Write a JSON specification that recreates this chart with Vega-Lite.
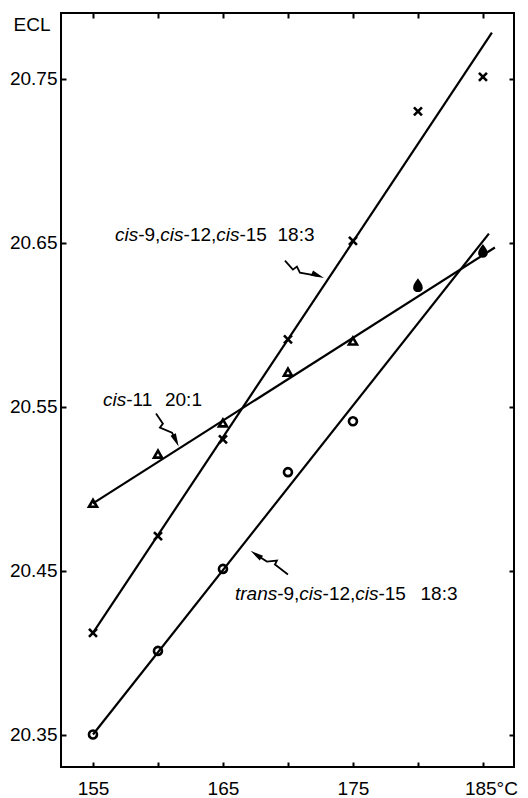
{
  "$schema": "https://vega.github.io/schema/vega-lite/v6.json",
  "autosize": {"type": "none"},
  "width": 453,
  "height": 754,
  "padding": {"left": 61, "top": 13, "right": 14, "bottom": 31},
  "background": "white",
  "config": {
    "font": "Liberation Sans",
    "view": {"stroke": "black", "strokeWidth": 2},
    "axis": {"domain": false, "grid": false, "tickColor": "black", "tickWidth": 2, "tickSize": -5, "labelColor": "black", "labelFontSize": 19, "labelFont": "Liberation Sans"}
  },
  "datasets": {
    "lines": [
      {"series": "all-cis 18:3", "x": 155, "y": 20.412},
      {"series": "all-cis 18:3", "x": 185.69, "y": 20.778},
      {"series": "cis-11 20:1", "x": 155, "y": 20.491},
      {"series": "cis-11 20:1", "x": 185.92, "y": 20.647},
      {"series": "trans-9 18:3", "x": 155, "y": 20.35},
      {"series": "trans-9 18:3", "x": 185.46, "y": 20.6555}
    ],
    "points": [
      {"series": "all-cis 18:3", "x": 155, "y": 20.412},
      {"series": "all-cis 18:3", "x": 160, "y": 20.471},
      {"series": "all-cis 18:3", "x": 165, "y": 20.530},
      {"series": "all-cis 18:3", "x": 170, "y": 20.591},
      {"series": "all-cis 18:3", "x": 175, "y": 20.651},
      {"series": "all-cis 18:3", "x": 180, "y": 20.730},
      {"series": "all-cis 18:3", "x": 185, "y": 20.751},
      {"series": "cis-11 20:1", "x": 155, "y": 20.491},
      {"series": "cis-11 20:1", "x": 160, "y": 20.521},
      {"series": "cis-11 20:1", "x": 165, "y": 20.540},
      {"series": "cis-11 20:1", "x": 170, "y": 20.571},
      {"series": "cis-11 20:1", "x": 175, "y": 20.590},
      {"series": "trans-9 18:3", "x": 155, "y": 20.350},
      {"series": "trans-9 18:3", "x": 160, "y": 20.401},
      {"series": "trans-9 18:3", "x": 165, "y": 20.451},
      {"series": "trans-9 18:3", "x": 170, "y": 20.510},
      {"series": "trans-9 18:3", "x": 175, "y": 20.541}
    ],
    "dark": [
      {"x": 180, "y": 20.624},
      {"x": 185, "y": 20.645}
    ],
    "arrows": [
      {"arrow": "a1", "i": 1, "x": 169.77, "y": 20.639},
      {"arrow": "a1", "i": 2, "x": 170.38, "y": 20.6335},
      {"arrow": "a1", "i": 3, "x": 170.69, "y": 20.6354},
      {"arrow": "a1", "i": 4, "x": 170.92, "y": 20.6317},
      {"arrow": "a1", "i": 5, "x": 172.4, "y": 20.6295},
      {"arrow": "a2", "i": 1, "x": 159.85, "y": 20.5457},
      {"arrow": "a2", "i": 2, "x": 160.38, "y": 20.5396},
      {"arrow": "a2", "i": 3, "x": 160.15, "y": 20.5372},
      {"arrow": "a2", "i": 4, "x": 161.08, "y": 20.5341},
      {"arrow": "a2", "i": 5, "x": 161.4, "y": 20.529},
      {"arrow": "a3", "i": 1, "x": 167.5, "y": 20.46},
      {"arrow": "a3", "i": 2, "x": 168.38, "y": 20.4555},
      {"arrow": "a3", "i": 3, "x": 169.15, "y": 20.4561},
      {"arrow": "a3", "i": 4, "x": 169.0, "y": 20.4537},
      {"arrow": "a3", "i": 5, "x": 170.0, "y": 20.4476}
    ],
    "heads": [
      {"arrow": "a1", "x": 172.31, "y": 20.6299},
      {"arrow": "a2", "x": 161.38, "y": 20.5293},
      {"arrow": "a3", "x": 167.54, "y": 20.4598}
    ],
    "italic": [
      {"x": 156.692, "y": 20.6512, "t": "cis"},
      {"x": 160.177, "y": 20.6512, "t": "cis"},
      {"x": 164.485, "y": 20.6512, "t": "cis"},
      {"x": 155.769, "y": 20.5506, "t": "cis"},
      {"x": 165.923, "y": 20.4323, "t": "trans"},
      {"x": 170.877, "y": 20.4323, "t": "cis"},
      {"x": 175.177, "y": 20.4323, "t": "cis"}
    ],
    "roman": [
      {"x": 158.477, "y": 20.6512, "t": "-9,"},
      {"x": 161.969, "y": 20.6512, "t": "-12,"},
      {"x": 166.269, "y": 20.6512, "t": "-15"},
      {"x": 169.2, "y": 20.6512, "t": "18:3"},
      {"x": 157.554, "y": 20.5506, "t": "-11"},
      {"x": 160.538, "y": 20.5506, "t": "20:1"},
      {"x": 169.169, "y": 20.4323, "t": "-9,"},
      {"x": 172.662, "y": 20.4323, "t": "-12,"},
      {"x": 176.962, "y": 20.4323, "t": "-15"},
      {"x": 180.2, "y": 20.4323, "t": "18:3"}
    ]
  },
  "resolve": {"axis": {"x": "independent", "y": "independent"}},
  "layer": [
    {
      "data": {"name": "lines"},
      "mark": {"type": "line", "color": "black", "strokeWidth": 2.2},
      "encoding": {
        "x": {"field": "x", "type": "quantitative", "scale": {"domain": [152.54, 187.39], "nice": false, "zero": false},
          "axis": {"orient": "bottom", "values": [155, 160, 165, 170, 175, 180, 185], "labelExpr": "datum.value == 185 ? '185°C' : (datum.value % 10 == 5 ? datum.label : '')", "labelPadding": 17, "labelOffset": {"condition": {"test": "datum.value == 185", "value": 8}, "value": 0}, "title": null}},
        "y": {"field": "y", "type": "quantitative", "scale": {"domain": [20.3302, 20.79], "nice": false, "zero": false},
          "axis": {"orient": "left", "values": [20.35, 20.45, 20.55, 20.65, 20.75], "format": ".2f", "labelPadding": 9, "title": "ECL", "titleAngle": 0, "titleAlign": "left", "titleBaseline": "alphabetic", "titleX": -48, "titleY": 17, "titleFontSize": 19, "titleFontWeight": "normal", "titleColor": "black", "titleFont": "Liberation Sans"}},
        "detail": {"field": "series"}
      }
    },
    {
      "data": {"name": "lines"},
      "mark": {"type": "point", "opacity": 0},
      "encoding": {
        "x": {"field": "x", "type": "quantitative", "scale": {"domain": [152.54, 187.39], "nice": false, "zero": false},
          "axis": {"orient": "top", "values": [155, 160, 165, 170, 175, 180, 185], "labels": false, "title": null}},
        "y": {"field": "y", "type": "quantitative", "scale": {"domain": [20.3302, 20.79], "nice": false, "zero": false},
          "axis": {"orient": "right", "values": [20.35, 20.45, 20.55, 20.65, 20.75], "labels": false, "title": null}}
      }
    },
    {
      "data": {"name": "points"},
      "mark": {"type": "point", "filled": false, "color": "black", "strokeWidth": 2.6, "size": 64, "opacity": 1},
      "encoding": {
        "x": {"field": "x", "type": "quantitative", "axis": null},
        "y": {"field": "y", "type": "quantitative", "axis": null},
        "shape": {"field": "series", "type": "nominal", "legend": null,
          "scale": {"domain": ["all-cis 18:3", "cis-11 20:1", "trans-9 18:3"], "range": ["M-1,-1L1,1M-1,1L1,-1", "triangle-up", "circle"]}}
      }
    },
    {
      "data": {"name": "dark"},
      "mark": {"type": "point", "filled": true, "color": "black", "opacity": 1, "size": 190, "shape": "M0,-1C0.35,-0.5 0.7,-0.1 0.7,0.35C0.7,0.75 0.35,1 0,1C-0.35,1 -0.7,0.75 -0.7,0.35C-0.7,-0.1 -0.35,-0.5 0,-1Z"},
      "encoding": {
        "x": {"field": "x", "type": "quantitative", "axis": null},
        "y": {"field": "y", "type": "quantitative", "axis": null}
      }
    },
    {
      "data": {"name": "arrows"},
      "mark": {"type": "line", "color": "black", "strokeWidth": 1.8},
      "encoding": {
        "x": {"field": "x", "type": "quantitative", "axis": null},
        "y": {"field": "y", "type": "quantitative", "axis": null},
        "detail": {"field": "arrow"},
        "order": {"field": "i"}
      }
    },
    {
      "data": {"name": "heads"},
      "transform": [{"filter": "datum.arrow == 'a1'"}],
      "mark": {"type": "point", "filled": true, "color": "black", "opacity": 1, "size": 170, "angle": 22, "shape": "M1,0L-1,-0.45L-1,0.45Z"},
      "encoding": {
        "x": {"field": "x", "type": "quantitative", "axis": null},
        "y": {"field": "y", "type": "quantitative", "axis": null}
      }
    },
    {
      "data": {"name": "heads"},
      "transform": [{"filter": "datum.arrow == 'a2'"}],
      "mark": {"type": "point", "filled": true, "color": "black", "opacity": 1, "size": 170, "angle": 65, "shape": "M1,0L-1,-0.45L-1,0.45Z"},
      "encoding": {
        "x": {"field": "x", "type": "quantitative", "axis": null},
        "y": {"field": "y", "type": "quantitative", "axis": null}
      }
    },
    {
      "data": {"name": "heads"},
      "transform": [{"filter": "datum.arrow == 'a3'"}],
      "mark": {"type": "point", "filled": true, "color": "black", "opacity": 1, "size": 170, "angle": 214, "shape": "M1,0L-1,-0.45L-1,0.45Z"},
      "encoding": {
        "x": {"field": "x", "type": "quantitative", "axis": null},
        "y": {"field": "y", "type": "quantitative", "axis": null}
      }
    },
    {
      "data": {"name": "italic"},
      "mark": {"type": "text", "font": "Liberation Sans", "fontStyle": "italic", "fontSize": 19, "align": "left", "baseline": "alphabetic", "color": "black"},
      "encoding": {
        "x": {"field": "x", "type": "quantitative", "axis": null},
        "y": {"field": "y", "type": "quantitative", "axis": null},
        "text": {"field": "t"}
      }
    },
    {
      "data": {"name": "roman"},
      "mark": {"type": "text", "font": "Liberation Sans", "fontSize": 19, "align": "left", "baseline": "alphabetic", "color": "black"},
      "encoding": {
        "x": {"field": "x", "type": "quantitative", "axis": null},
        "y": {"field": "y", "type": "quantitative", "axis": null},
        "text": {"field": "t"}
      }
    }
  ]
}
